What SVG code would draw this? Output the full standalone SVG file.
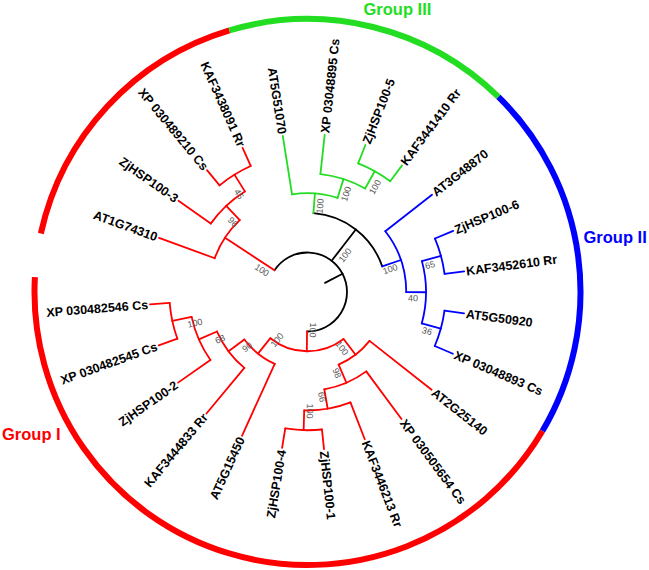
<svg xmlns="http://www.w3.org/2000/svg" width="649" height="570" viewBox="0 0 649 570">
<style>
.br{fill:none;stroke-width:1.8;stroke-linecap:round}
.k{stroke:#000}
.r{stroke:#ff0000}
.g{stroke:#22dd22}
.b{stroke:#0000ff}
.ring{fill:none;stroke-width:6}
.tip{font-family:"Liberation Sans",Arial,sans-serif;font-weight:bold;font-size:12.5px;fill:#000}
.bs{font-family:"Liberation Sans",Arial,sans-serif;font-size:9px;fill:#555;text-anchor:middle}
.grp{font-family:"Liberation Sans",Arial,sans-serif;font-weight:bold;font-size:16.5px}
</style>
<rect width="649" height="570" fill="#fff"/>
<g id="ring" transform="translate(307.5 292)">
<path class="ring" stroke="#ff0000" d="M -266.66 -58.51 A 273 273 0 0 1 -78.11 -261.59"/>
<path class="ring" stroke="#22dd22" d="M -78.11 -261.59 A 273 273 0 0 1 190.93 -195.13"/>
<path class="ring" stroke="#0000ff" d="M 190.93 -195.13 A 273 273 0 0 1 234.92 139.07"/>
<path class="ring" stroke="#ff0000" d="M 234.92 139.07 A 273 273 0 0 1 -272.59 -14.88"/>
</g>
<g id="group-labels">
<text class="grp" fill="#22dd22" x="363.5" y="14.5">Group III</text>
<text class="grp" fill="#0000ff" x="583.5" y="243">Group II</text>
<text class="grp" fill="#ff0000" x="2" y="439.5">Group I</text>
</g>
<g id="connectors" transform="translate(307.5 292)">
<g class="br k">
<line x1="19.75" y1="0" x2="39.5" y2="0" transform="rotate(-27.5)"/>
<path d="M -33.00 -21.71 A 39.5 39.5 0 1 1 -0.46 39.50"/>
<line x1="39.5" y1="0" x2="79" y2="0" transform="rotate(-52.3)"/>
<path d="M 5.92 -78.78 A 79 79 0 0 1 74.74 -25.59"/>
</g>
<g class="br r">
<line x1="39.5" y1="0" x2="98.75" y2="0" transform="rotate(-146.66)"/>
<path d="M -92.80 -33.77 A 98.75 98.75 0 0 1 -67.77 -71.83"/>
<line x1="98.75" y1="0" x2="118.5" y2="0" transform="rotate(-133.3)"/>
<path d="M -96.77 -68.39 A 118.5 118.5 0 0 1 -62.62 -100.60"/>
<line x1="118.5" y1="0" x2="138.25" y2="0" transform="rotate(-121.9)"/>
<path d="M -87.94 -106.68 A 138.25 138.25 0 0 1 -56.78 -126.05"/>
<line x1="98.75" y1="0" x2="158" y2="0" transform="rotate(-160)"/>
<line x1="118.5" y1="0" x2="158" y2="0" transform="rotate(-144.75)"/>
<line x1="138.25" y1="0" x2="158" y2="0" transform="rotate(-129.5)"/>
<line x1="138.25" y1="0" x2="158" y2="0" transform="rotate(-114.25)"/>
</g>
<g class="br g">
<line x1="79" y1="0" x2="98.75" y2="0" transform="rotate(-85.7)"/>
<path d="M -15.45 -97.53 A 98.75 98.75 0 0 1 30.02 -94.08"/>
<line x1="98.75" y1="0" x2="158" y2="0" transform="rotate(-99)"/>
<line x1="98.75" y1="0" x2="118.5" y2="0" transform="rotate(-72.3)"/>
<path d="M 12.90 -117.80 A 118.5 118.5 0 0 1 57.63 -103.54"/>
<line x1="118.5" y1="0" x2="158" y2="0" transform="rotate(-83.75)"/>
<line x1="118.5" y1="0" x2="138.25" y2="0" transform="rotate(-60.9)"/>
<path d="M 50.67 -128.63 A 138.25 138.25 0 0 1 82.72 -110.77"/>
<line x1="138.25" y1="0" x2="158" y2="0" transform="rotate(-68.5)"/>
<line x1="138.25" y1="0" x2="158" y2="0" transform="rotate(-53.25)"/>
</g>
<g class="br b">
<line x1="79" y1="0" x2="98.75" y2="0" transform="rotate(-18.9)"/>
<path d="M 77.82 -60.80 A 98.75 98.75 0 0 1 98.75 0.22"/>
<line x1="98.75" y1="0" x2="158" y2="0" transform="rotate(-38)"/>
<line x1="98.75" y1="0" x2="118.5" y2="0" transform="rotate(0.125)"/>
<path d="M 114.41 -30.87 A 118.5 118.5 0 0 1 114.25 31.47"/>
<line x1="118.5" y1="0" x2="138.25" y2="0" transform="rotate(-15.1)"/>
<path d="M 127.49 -53.46 A 138.25 138.25 0 0 1 137.07 -18.05"/>
<line x1="118.5" y1="0" x2="138.25" y2="0" transform="rotate(15.4)"/>
<path d="M 136.99 18.64 A 138.25 138.25 0 0 1 127.26 54.02"/>
<line x1="138.25" y1="0" x2="158" y2="0" transform="rotate(-22.75)"/>
<line x1="138.25" y1="0" x2="158" y2="0" transform="rotate(-7.5)"/>
<line x1="138.25" y1="0" x2="158" y2="0" transform="rotate(7.75)"/>
<line x1="138.25" y1="0" x2="158" y2="0" transform="rotate(23)"/>
</g>
<g class="br r">
<line x1="39.5" y1="0" x2="59.25" y2="0" transform="rotate(90.67)"/>
<path d="M 36.07 47.01 A 59.25 59.25 0 0 1 -37.13 46.18"/>
<line x1="59.25" y1="0" x2="79" y2="0" transform="rotate(52.5)"/>
<path d="M 62.04 48.91 A 79 79 0 0 1 31.12 72.61"/>
<line x1="79" y1="0" x2="158" y2="0" transform="rotate(38.25)"/>
<line x1="79" y1="0" x2="98.75" y2="0" transform="rotate(66.8)"/>
<path d="M 58.74 79.38 A 98.75 98.75 0 0 1 16.81 97.31"/>
<line x1="98.75" y1="0" x2="158" y2="0" transform="rotate(53.5)"/>
<line x1="98.75" y1="0" x2="118.5" y2="0" transform="rotate(80.2)"/>
<path d="M 42.95 110.44 A 118.5 118.5 0 0 1 -3.31 118.45"/>
<line x1="118.5" y1="0" x2="158" y2="0" transform="rotate(68.75)"/>
<line x1="118.5" y1="0" x2="138.25" y2="0" transform="rotate(91.6)"/>
<path d="M 14.45 137.49 A 138.25 138.25 0 0 1 -22.22 136.45"/>
<line x1="138.25" y1="0" x2="158" y2="0" transform="rotate(84)"/>
<line x1="138.25" y1="0" x2="158" y2="0" transform="rotate(99.25)"/>
<line x1="59.25" y1="0" x2="79" y2="0" transform="rotate(128.8)"/>
<path d="M -32.76 71.89 A 79 79 0 0 1 -63.17 47.43"/>
<line x1="79" y1="0" x2="158" y2="0" transform="rotate(114.5)"/>
<line x1="79" y1="0" x2="98.75" y2="0" transform="rotate(143.1)"/>
<path d="M -63.15 75.92 A 98.75 98.75 0 0 1 -90.49 39.53"/>
<line x1="98.75" y1="0" x2="158" y2="0" transform="rotate(129.75)"/>
<line x1="98.75" y1="0" x2="118.5" y2="0" transform="rotate(156.4)"/>
<path d="M -97.07 67.97 A 118.5 118.5 0 0 1 -115.87 24.84"/>
<line x1="118.5" y1="0" x2="158" y2="0" transform="rotate(145)"/>
<line x1="118.5" y1="0" x2="138.25" y2="0" transform="rotate(167.9)"/>
<path d="M -130.12 46.72 A 138.25 138.25 0 0 1 -137.82 10.85"/>
<line x1="138.25" y1="0" x2="158" y2="0" transform="rotate(160.25)"/>
<line x1="138.25" y1="0" x2="158" y2="0" transform="rotate(175.5)"/>
</g>
</g>
<g id="leaves" transform="translate(307.5 292)">
<g id="leaf-AT1G74310"><text class="tip" dy="0.35em" text-anchor="end" transform="rotate(-160) translate(160 0) rotate(180)">AT1G74310</text></g>
<g id="leaf-ZjHSP100-3"><text class="tip" dy="0.35em" text-anchor="end" transform="rotate(-144.75) translate(160 0) rotate(180)">ZjHSP100-3</text></g>
<g id="leaf-XP030489210"><text class="tip" dy="0.35em" text-anchor="end" transform="rotate(-129.5) translate(160 0) rotate(180)">XP 030489210 Cs</text></g>
<g id="leaf-KAF3438091"><text class="tip" dy="0.35em" text-anchor="end" transform="rotate(-114.25) translate(160 0) rotate(180)">KAF3438091 Rr</text></g>
<g id="leaf-AT5G51070"><text class="tip" dy="0.35em" text-anchor="end" transform="rotate(-99) translate(160 0) rotate(180)">AT5G51070</text></g>
<g id="leaf-XP03048895"><text class="tip" dy="0.35em" transform="rotate(-83.75) translate(160 0)">XP 03048895 Cs</text></g>
<g id="leaf-ZjHSP100-5"><text class="tip" dy="0.35em" transform="rotate(-68.5) translate(160 0)">ZjHSP100-5</text></g>
<g id="leaf-KAF3441410"><text class="tip" dy="0.35em" transform="rotate(-53.25) translate(160 0)">KAF3441410 Rr</text></g>
<g id="leaf-AT3G48870"><text class="tip" dy="0.35em" transform="rotate(-38) translate(160 0)">AT3G48870</text></g>
<g id="leaf-ZjHSP100-6"><text class="tip" dy="0.35em" transform="rotate(-22.75) translate(160 0)">ZjHSP100-6</text></g>
<g id="leaf-KAF3452610"><text class="tip" dy="0.35em" transform="rotate(-7.5) translate(160 0)">KAF3452610 Rr</text></g>
<g id="leaf-AT5G50920"><text class="tip" dy="0.35em" transform="rotate(7.75) translate(160 0)">AT5G50920</text></g>
<g id="leaf-XP03048893"><text class="tip" dy="0.35em" transform="rotate(23) translate(160 0)">XP 03048893 Cs</text></g>
<g id="leaf-AT2G25140"><text class="tip" dy="0.35em" transform="rotate(38.25) translate(160 0)">AT2G25140</text></g>
<g id="leaf-XP030505654"><text class="tip" dy="0.35em" transform="rotate(53.5) translate(160 0)">XP 030505654 Cs</text></g>
<g id="leaf-KAF3446213"><text class="tip" dy="0.35em" transform="rotate(68.75) translate(160 0)">KAF3446213 Rr</text></g>
<g id="leaf-ZjHSP100-1"><text class="tip" dy="0.35em" transform="rotate(84) translate(160 0)">ZjHSP100-1</text></g>
<g id="leaf-ZjHSP100-4"><text class="tip" dy="0.35em" text-anchor="end" transform="rotate(99.25) translate(160 0) rotate(180)">ZjHSP100-4</text></g>
<g id="leaf-AT5G15450"><text class="tip" dy="0.35em" text-anchor="end" transform="rotate(114.5) translate(160 0) rotate(180)">AT5G15450</text></g>
<g id="leaf-KAF3444833"><text class="tip" dy="0.35em" text-anchor="end" transform="rotate(129.75) translate(160 0) rotate(180)">KAF3444833 Rr</text></g>
<g id="leaf-ZjHSP100-2"><text class="tip" dy="0.35em" text-anchor="end" transform="rotate(145) translate(160 0) rotate(180)">ZjHSP100-2</text></g>
<g id="leaf-XP030482545"><text class="tip" dy="0.35em" text-anchor="end" transform="rotate(160.25) translate(160 0) rotate(180)">XP 030482545 Cs</text></g>
<g id="leaf-XP030482546"><text class="tip" dy="0.35em" text-anchor="end" transform="rotate(175.5) translate(160 0) rotate(180)">XP 030482546 Cs</text></g>
</g>
<g id="bootstrap">
<text class="bs" dy="0.35em" transform="translate(262 270) rotate(33.3)">100</text>
<text class="bs" dy="0.35em" transform="translate(233 222) rotate(46.7)">96</text>
<text class="bs" dy="0.35em" transform="translate(239 194) rotate(58.1)">45</text>
<text class="bs" dy="0.35em" transform="translate(320 206) rotate(-85.7)">100</text>
<text class="bs" dy="0.35em" transform="translate(346 194) rotate(-72.3)">100</text>
<text class="bs" dy="0.35em" transform="translate(375 187) rotate(-60.9)">100</text>
<text class="bs" dy="0.35em" transform="translate(345 255) rotate(-52.3)">100</text>
<text class="bs" dy="0.35em" transform="translate(390 269) rotate(-18.9)">100</text>
<text class="bs" dy="0.35em" transform="translate(413 298) rotate(0.1)">40</text>
<text class="bs" dy="0.35em" transform="translate(430 265) rotate(-15.1)">65</text>
<text class="bs" dy="0.35em" transform="translate(427 331) rotate(15.4)">36</text>
<text class="bs" dy="0.35em" transform="translate(313 330) rotate(90.7)">100</text>
<text class="bs" dy="0.35em" transform="translate(342 348) rotate(52.5)">100</text>
<text class="bs" dy="0.35em" transform="translate(337 373) rotate(66.8)">98</text>
<text class="bs" dy="0.35em" transform="translate(322 397) rotate(80.2)">66</text>
<text class="bs" dy="0.35em" transform="translate(310 411) rotate(91.6)">100</text>
<text class="bs" dy="0.35em" transform="translate(277 340) rotate(-51.2)">100</text>
<text class="bs" dy="0.35em" transform="translate(247 347) rotate(-36.9)">90</text>
<text class="bs" dy="0.35em" transform="translate(220 339) rotate(-23.6)">68</text>
<text class="bs" dy="0.35em" transform="translate(195 323) rotate(-12.1)">100</text>
</g>
</svg>
